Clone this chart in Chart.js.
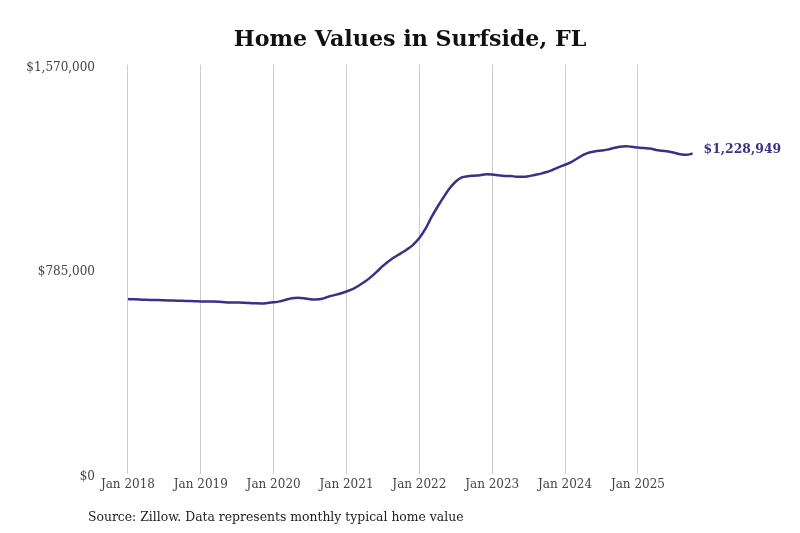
<!DOCTYPE html>
<html>
<head>
<meta charset="utf-8">
<script src="https://cdn.jsdelivr.net/npm/chart.js@4.4.1/dist/chart.umd.min.js"></script>
<style>
  html, body { margin: 0; padding: 0; background: #fff; }
  #wrap { width: 800px; height: 533px; position: relative; }
</style>
</head>
<body>
<div id="wrap"><canvas id="c" width="800" height="533"></canvas></div>
<script>
const titleText = "Home Values in Surfside, FL";
const sourceText = "Source: Zillow. Data represents monthly typical home value";
const startYear = 2018;
// Monthly typical home value, Jan 2018 .. Oct 2025
const homeValues = [
  671000, 670000, 669000, 668000, 667500, 667000, 666000, 665500, 664500, 664000, 663500, 663000,
  662000, 662000, 661500, 660500, 659000, 658000, 657500, 657000, 656000, 654500, 654000, 656000,
  658500, 662000, 668000, 674000, 676000, 674000, 670000, 669000, 672000, 680000, 686000, 692000,
  700000, 709000, 722000, 737000, 755000, 776000, 798000, 817000, 833000, 847000, 862000, 880000,
  905000, 940000, 985000, 1025000, 1062000, 1096000, 1122000, 1138000, 1142000, 1144000, 1146000, 1150000,
  1149000, 1146000, 1143000, 1143000, 1140000, 1140000, 1142000, 1147000, 1152000, 1158000, 1167000, 1177000,
  1186000, 1196000, 1210000, 1224000, 1233000, 1238000, 1241000, 1244000, 1250000, 1255000, 1257000, 1255000,
  1252000, 1250000, 1248000, 1243000, 1240000, 1237000, 1232000, 1226000, 1224000, 1228949
];
const xTickMonths = [0, 12, 24, 36, 48, 60, 72, 84];
const xTickLabels = ["Jan 2018", "Jan 2019", "Jan 2020", "Jan 2021", "Jan 2022", "Jan 2023", "Jan 2024", "Jan 2025"];
const yTicks = [0, 785000, 1570000];

const lineColor = "#3a3087";
const fmt = v => "$" + Math.round(v).toLocaleString("en-US");

const endLabel = {
  id: "endLabel",
  afterDraw(chart) {
    const ctx = chart.ctx;
    const meta = chart.getDatasetMeta(0);
    const last = meta.data[meta.data.length - 1];
    ctx.save();
    ctx.font = "bold 12.4px 'DejaVu Serif'";
    ctx.fillStyle = lineColor;
    ctx.textAlign = "left";
    ctx.textBaseline = "middle";
    ctx.fillText(fmt(homeValues[homeValues.length - 1]), last.x + 11, last.y - 4);
    ctx.font = "12.4px 'DejaVu Serif'";
    ctx.fillStyle = "#222";
    ctx.textBaseline = "middle";
    ctx.fillText(sourceText, 88, 517.5);
    ctx.restore();
  }
};

new Chart(document.getElementById("c"), {
  type: "line",
  data: {
    datasets: [{
      data: homeValues.map((v, i) => ({ x: i, y: v })),
      borderColor: lineColor,
      borderWidth: 2.5,
      pointRadius: 0,
      tension: 0.4,
      cubicInterpolationMode: "monotone",
      fill: false
    }]
  },
  options: {
    responsive: false,
    animation: false,
    layout: { padding: { left: 20, right: 0, top: 0, bottom: 0 } },
    plugins: {
      legend: { display: false },
      tooltip: { enabled: false },
      title: {
        display: true,
        text: titleText,
        color: "#111",
        font: { family: "'DejaVu Serif'", size: 22.2, weight: "bold", lineHeight: 1.2 },
        padding: { top: 27, bottom: 11 }
      }
    },
    scales: {
      x: {
        type: "linear",
        min: -4.6,
        max: 110.7,
        afterBuildTicks: s => { s.ticks = xTickMonths.map(v => ({ value: v })); },
        ticks: {
          callback: (v) => xTickLabels[xTickMonths.indexOf(v)],
          color: "#444",
          font: { family: "'DejaVu Serif'", size: 12 },
          padding: 4,
          maxRotation: 0,
          autoSkip: false
        },
        grid: { color: "#cccccc", lineWidth: 1, drawTicks: false },
        border: { display: false },
        afterFit: s => { s.height = 59; }
      },
      y: {
        min: 0,
        max: 1570000,
        afterBuildTicks: s => { s.ticks = yTicks.map(v => ({ value: v })); },
        ticks: {
          callback: v => fmt(v),
          color: "#444",
          font: { family: "'DejaVu Serif'", size: 12 },
          padding: 5,
          labelOffset: 3
        },
        grid: { display: false, drawTicks: false },
        border: { display: false },
        afterFit: s => { s.width = 80; }
      }
    }
  },
  plugins: [endLabel]
});
</script>
</body>
</html>
